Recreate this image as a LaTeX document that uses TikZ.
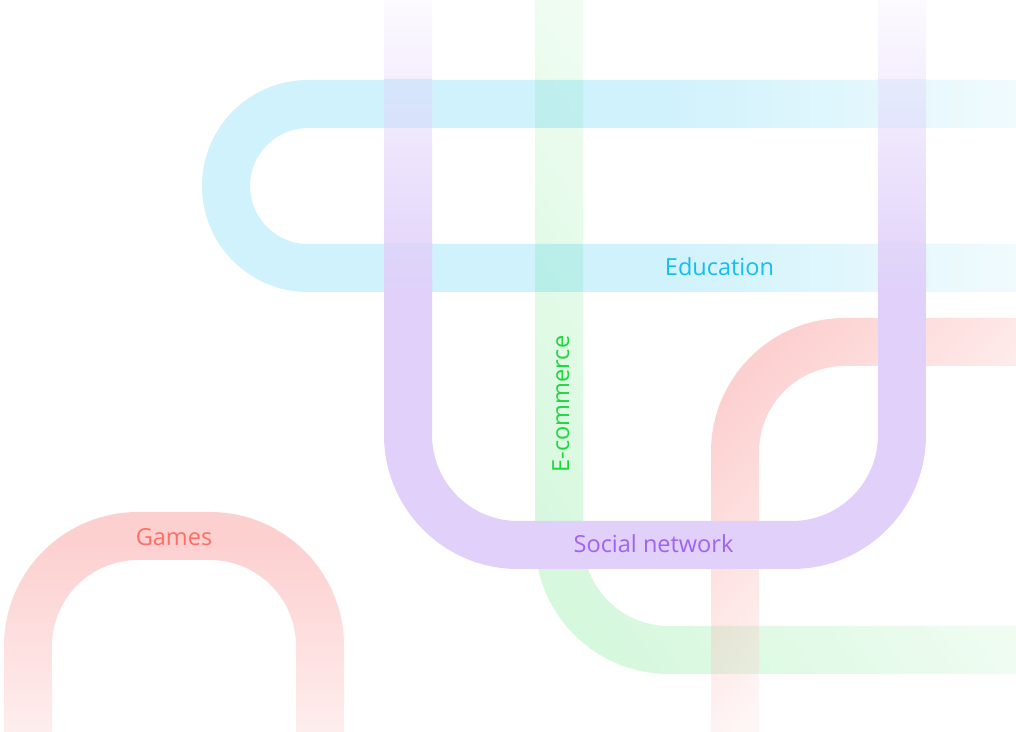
\documentclass[tikz,border=0pt]{standalone}
\usepackage{fontspec}
\setmainfont{Open Sans}

\definecolor{edutext}{RGB}{20,190,240}
\definecolor{eduband}{RGB}{20,190,240}
\definecolor{soctext}{RGB}{160,100,240}
\definecolor{socband}{RGB}{224,208,250}
\definecolor{ecomtext}{RGB}{30,215,60}
\definecolor{ecomband}{RGB}{30,220,70}
\definecolor{gametext}{RGB}{255,110,100}
\definecolor{gameband}{RGB}{250,100,100}
% blends where Education crosses Social network
\definecolor{xltA}{RGB}{213,230,251}\definecolor{xltB}{RGB}{216,226,250}
\definecolor{xlbA}{RGB}{221,214,250}\definecolor{xlbB}{RGB}{224,209,250}
\definecolor{xrtA}{RGB}{228,235,252}\definecolor{xrtB}{RGB}{227,229,252}
\definecolor{xrbA}{RGB}{225,215,250}\definecolor{xrbB}{RGB}{224,209,250}

% shadings: inner 25bp..75bp span the path's bounding box
\pgfdeclarehorizontalshading{edushade}{100bp}{color(0bp)=(eduband); color(53.13bp)=(eduband); color(75bp)=(eduband!30!white); color(100bp)=(eduband!30!white)}
\pgfdeclareverticalshading{socshade}{100bp}{color(0bp)=(socband); color(48.64bp)=(socband); color(75bp)=(socband!10!white); color(100bp)=(socband!10!white)}
\pgfdeclarehorizontalshading{ecshade}{100bp}{color(0bp)=(ecomband); color(50bp)=(ecomband); color(61.54bp)=(ecomband!37!white); color(100bp)=(ecomband!37!white)}
\pgfdeclareverticalshading{gashade}{100bp}{color(0bp)=(gameband!36!white); color(25bp)=(gameband!36!white); color(68.6bp)=(gameband); color(100bp)=(gameband)}
\pgfdeclarehorizontalshading{grshade}{100bp}{color(0bp)=(gameband); color(50.71bp)=(gameband); color(59.46bp)=(gameband!20!white); color(100bp)=(gameband!20!white)}

\tikzset{
  lbl/.style={font=\fontsize{23.6}{28}\selectfont, anchor=base, inner sep=0pt},
}

\begin{document}
\begin{tikzpicture}[x=1bp,y=1bp]
\useasboundingbox (0,0) rectangle (1016,732);
\fill[white] (0,0) rectangle (1016,732);

% E-commerce (green)
\begin{scope}
  \clip (535,732) -- (535,192) arc[start angle=180, end angle=270, radius=134bp]
    -- (1016,58) -- (1016,106) -- (669,106)
    arc[start angle=270, end angle=180, radius=86bp] -- (583,732) -- cycle;
  \shade[shading=ecshade, opacity=.18, transform canvas={shift={(600,112)}, rotate=35}]
    (-700,-700) rectangle (700,700);
\end{scope}

% Games (red arch)
\shade[shading=gashade, opacity=.3]
  (4,0) -- (4,86) arc[start angle=180, end angle=90, radius=134bp]
  -- (210,220) arc[start angle=90, end angle=0, radius=134bp]
  -- (344,0) -- (296,0) -- (296,86)
  arc[start angle=0, end angle=90, radius=86bp]
  -- (138,172) arc[start angle=90, end angle=180, radius=86bp]
  -- (52,0) -- cycle;

% red right band
\begin{scope}
  \clip (1016,414) -- (845,414) arc[start angle=90, end angle=180, radius=134bp]
    -- (711,0) -- (759,0) -- (759,280)
    arc[start angle=180, end angle=90, radius=86bp] -- (1016,366) -- cycle;
  \shade[shading=grshade, opacity=.3, transform canvas={shift={(740,380)}, rotate=-45}]
    (-700,-700) rectangle (700,700);
\end{scope}

% Education (blue)
\shade[shading=edushade, opacity=.2]
  (1016,652) -- (308,652) arc[start angle=90, end angle=270, radius=106bp]
  -- (1016,440) -- (1016,488) -- (308,488)
  arc[start angle=270, end angle=90, radius=58bp]
  -- (1016,604) -- cycle;

% Social network (purple)
\shade[shading=socshade]
  (384,732) -- (384,297) arc[start angle=180, end angle=270, radius=134bp]
  -- (792,163) arc[start angle=270, end angle=360, radius=134bp]
  -- (926,732) -- (878,732) -- (878,297)
  arc[start angle=0, end angle=-90, radius=86bp]
  -- (518,211) arc[start angle=270, end angle=180, radius=86bp]
  -- (432,732) -- cycle;

% crossings of Education over the fading Social network band
\shade[top color=xltA, bottom color=xltB] (384,604) rectangle (432,652);
\shade[top color=xlbA, bottom color=xlbB] (384,440) rectangle (432,488);
\shade[top color=xrtA, bottom color=xrtB] (878,604) rectangle (926,652);
\shade[top color=xrbA, bottom color=xrbB] (878,440) rectangle (926,488);

% labels
\node[lbl, text=edutext] (edu) at (719.5,456) {Education};
\node[lbl, text=soctext] (soc) at (653.5,179) {Social network};
\node[lbl, text=gametext] (games) at (174,186) {Games};
\node[lbl, text=ecomtext, rotate=90] (ecom) at (569,328) {E-commerce};
\end{tikzpicture}
\end{document}
